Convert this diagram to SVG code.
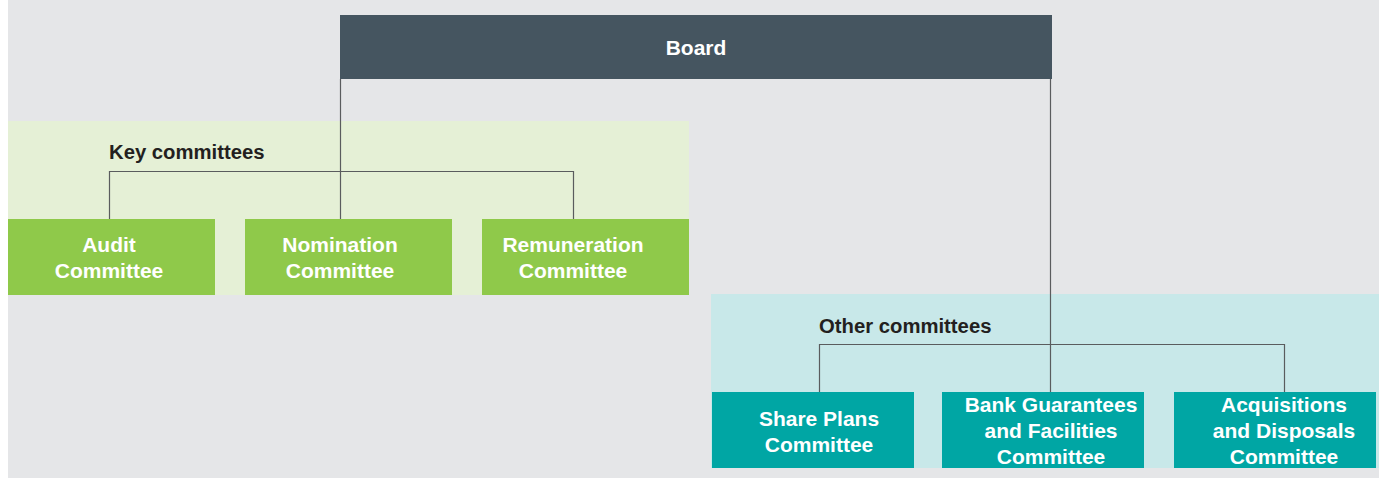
<svg xmlns="http://www.w3.org/2000/svg" width="1379" height="478" viewBox="0 0 1379 478">
  <style>
    .bg { fill: #e5e6e8; }
    .key-panel { fill: #e5f0d6; }
    .other-panel { fill: #c8e8e9; }
    .board { fill: #455560; }
    .key { fill: #8fc94a; }
    .other { fill: #00a6a4; }
    .label { font-family: "Liberation Sans", Arial, sans-serif; font-weight: bold; font-size: 21px; fill: #ffffff; text-anchor: middle; }
    .heading { font-family: "Liberation Sans", Arial, sans-serif; font-weight: bold; font-size: 20.3px; fill: #231f20; }
    .conn { fill: none; stroke: #5a5c5e; stroke-width: 1.2; }
  </style>

  <rect x="0" y="0" width="1379" height="478" fill="#ffffff"/>
  <rect class="bg" x="8" y="0" width="1371" height="478"/>

  <!-- committee group panels -->
  <rect class="key-panel" x="8" y="121" width="681" height="174"/>
  <rect class="other-panel" x="711" y="294" width="668" height="174"/>

  <text class="heading" x="109" y="159">Key committees</text>
  <text class="heading" x="819" y="333">Other committees</text>

  <g id="connectors">
    <path class="conn" d="M340.5,79 V219"/>
    <path class="conn" d="M1050.5,79 V392"/>
    <path class="conn" d="M109.5,219 V171.5 H573.5 V219"/>
    <path class="conn" d="M819.5,392 V344.5 H1284.5 V392"/>
  </g>

  <g id="board">
    <rect class="board" x="340" y="15" width="712" height="64"/>
    <text class="label" x="696" y="55">Board</text>
  </g>

  <g id="audit">
    <rect class="key" x="8" y="219" width="207" height="76"/>
    <text class="label" x="109" y="252">Audit</text>
    <text class="label" x="109" y="278">Committee</text>
  </g>

  <g id="nomination">
    <rect class="key" x="245" y="219" width="207" height="76"/>
    <text class="label" x="340" y="252">Nomination</text>
    <text class="label" x="340" y="278">Committee</text>
  </g>

  <g id="remuneration">
    <rect class="key" x="482" y="219" width="207" height="76"/>
    <text class="label" x="573" y="252">Remuneration</text>
    <text class="label" x="573" y="278">Committee</text>
  </g>

  <g id="share-plans">
    <rect class="other" x="712" y="392" width="202" height="76"/>
    <text class="label" x="819" y="426">Share Plans</text>
    <text class="label" x="819" y="452">Committee</text>
  </g>

  <g id="bank-guarantees">
    <rect class="other" x="942" y="392" width="202" height="76"/>
    <text class="label" x="1051" y="412">Bank Guarantees</text>
    <text class="label" x="1051" y="438">and Facilities</text>
    <text class="label" x="1051" y="464">Committee</text>
  </g>

  <g id="acquisitions">
    <rect class="other" x="1174" y="392" width="202" height="76"/>
    <text class="label" x="1284" y="412">Acquisitions</text>
    <text class="label" x="1284" y="438">and Disposals</text>
    <text class="label" x="1284" y="464">Committee</text>
  </g>
</svg>
